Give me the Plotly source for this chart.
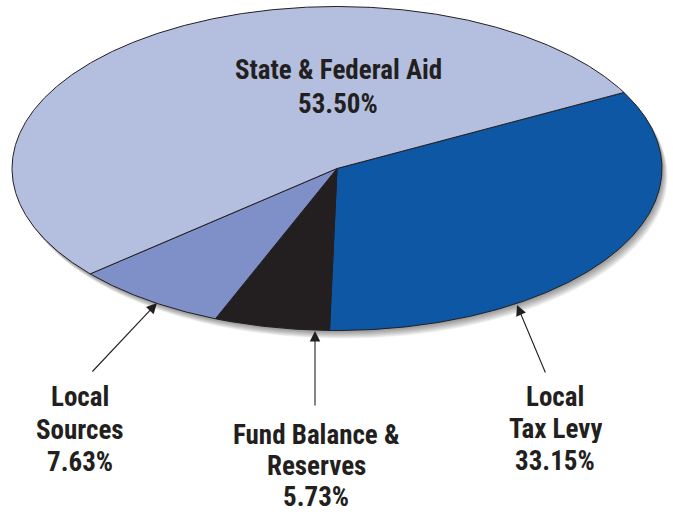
import numpy as np
import plotly.graph_objects as go

# ---- data ----
categories = ["Local Tax Levy", "Fund Balance & Reserves", "Local Sources", "State & Federal Aid"]
values = [33.15, 5.73, 7.63, 53.50]
colors = ["#0d57a5", "#231f20", "#7f8fc7", "#b4bfdf"]
label_lines = [
    ["Local", "Tax Levy", "33.15%"],
    ["Fund Balance &", "Reserves", "5.73%"],
    ["Local", "Sources", "7.63%"],
    ["State & Federal Aid", "53.50%"],
]

# ---- layout geometry ----
W, H = 673, 516
cx, cy, rx, ry = 337, 168.5, 325, 162
start_deg = 28.0   # angle of first boundary; slices run clockwise
FONT = "Liberation Sans Narrow, Roboto Condensed, DejaVu Sans Condensed, Roboto, sans-serif"
TXT = "#231f20"

fig = go.Figure()

# soft drop shadow
shapes = []
for i in range(8):
    d = 1.0 + i * 1.0
    shapes.append(dict(type="circle", xref="x", yref="y", layer="below",
                       x0=cx - rx + d * 0.7, x1=cx + rx + d * 0.7,
                       y0=cy - ry + d, y1=cy + ry + d,
                       fillcolor="rgba(0,0,0,0.06)", line=dict(width=0)))

total = sum(values)
theta = start_deg
for cat, v, col in zip(categories, values, colors):
    span = 360.0 * v / total
    n = max(int(span * 3), 6)
    t = np.radians(np.linspace(theta, theta - span, n))
    xs = np.concatenate([[cx], cx + rx * np.cos(t), [cx]])
    ys = np.concatenate([[cy], cy - ry * np.sin(t), [cy]])
    fig.add_trace(go.Scatter(x=xs, y=ys, mode="lines", fill="toself", fillcolor=col,
                             line=dict(color="#231f20", width=1), hoverinfo="text",
                             text=f"{cat}: {v:.2f}%", showlegend=False))
    theta -= span

annotations = []
# arrows (tip on the pie edge, tail near the label)
arrows = [((517, 305), (546, 374)), ((315, 331), (315, 407)), ((157, 303), (91, 373))]
for (tx, ty), (ax, ay) in arrows:
    annotations.append(dict(x=tx, y=ty, ax=ax, ay=ay, xref="x", yref="y", axref="x", ayref="y",
                            text="", showarrow=True, arrowhead=2, arrowsize=1.9, arrowwidth=1.1,
                            arrowcolor="#231f20", standoff=0, startstandoff=0))

# label line positions (x centre, y of each line)
label_pos = [(555, [397, 429, 461]), (316, [435, 466, 497]), (80, [397, 430, 462]), (338, [70, 104])]
for lines, (lx, ys) in zip(label_lines, label_pos):
    for line, ly in zip(lines, ys):
        annotations.append(dict(x=lx, y=ly, xref="x", yref="y", showarrow=False,
                                text=line, xanchor="center", yanchor="middle", height=28,
                                font=dict(family=FONT, size=27, color=TXT, weight="bold")))

fig.update_layout(
    width=W, height=H, margin=dict(l=0, r=0, t=0, b=0),
    paper_bgcolor="white", plot_bgcolor="white",
    xaxis=dict(range=[0, W], visible=False, fixedrange=True),
    yaxis=dict(range=[H, 0], visible=False, fixedrange=True),
    shapes=shapes, annotations=annotations, showlegend=False,
)
fig.write_html("out.html", config={"displayModeBar": False},
               post_script="document.body.style.margin='0';document.body.style.overflow='hidden';")
